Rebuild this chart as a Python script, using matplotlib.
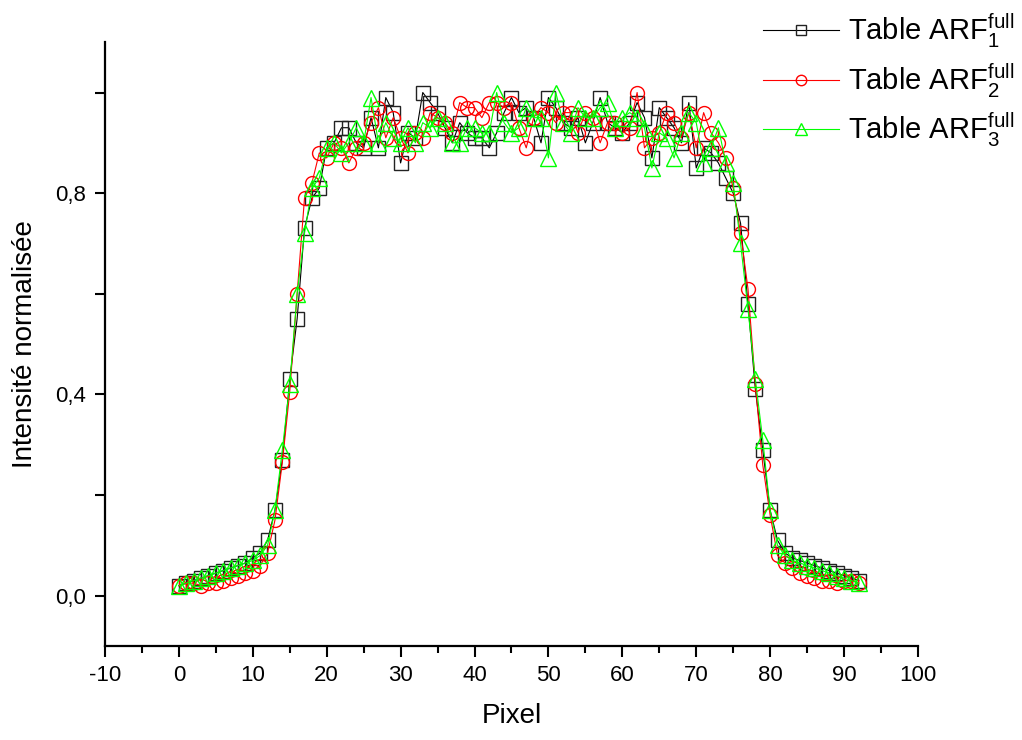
import numpy as np
import matplotlib
matplotlib.use("Agg")
import matplotlib.pyplot as plt
from matplotlib.ticker import MultipleLocator, FixedLocator, FuncFormatter

plt.rcParams['font.family'] = ['Liberation Sans', 'DejaVu Sans']
plt.rcParams['mathtext.default'] = 'regular'
plt.rcParams['axes.unicode_minus'] = False

# pixel index
pixel = np.arange(93)

# Table ARF1 full (black squares)
arf1 = [0.020, 0.025, 0.030, 0.035, 0.040, 0.045, 0.050, 0.055, 0.060, 0.065,
        0.075, 0.085, 0.110, 0.170, 0.270, 0.430, 0.550, 0.730, 0.790, 0.810,
        0.890, 0.900, 0.930, 0.930, 0.900, 0.890, 0.950, 0.890, 0.990, 0.960,
        0.860, 0.920, 0.910, 1.000, 0.980, 0.960, 0.930, 0.900, 0.940, 0.920,
        0.910, 0.910, 0.890, 0.920, 0.960, 0.990, 0.960, 0.970, 0.950, 0.900,
        0.990, 0.970, 0.940, 0.930, 0.950, 0.900, 0.940, 0.990, 0.940, 0.930,
        0.920, 0.940, 0.980, 0.950, 0.870, 0.970, 0.950, 0.930, 0.900, 0.980,
        0.850, 0.890, 0.880, 0.860, 0.830, 0.800, 0.740, 0.580, 0.410, 0.290,
        0.170, 0.110, 0.085, 0.075, 0.070, 0.065, 0.060, 0.055, 0.050, 0.045,
        0.040, 0.035, 0.030]

# Table ARF2 full (red circles)
arf2 = [0.020, 0.025, 0.025, 0.020, 0.025, 0.025, 0.030, 0.035, 0.040, 0.045,
        0.050, 0.060, 0.085, 0.150, 0.265, 0.405, 0.600, 0.790, 0.820, 0.880,
        0.870, 0.900, 0.890, 0.860, 0.890, 0.900, 0.940, 0.970, 0.910, 0.950,
        0.910, 0.880, 0.920, 0.910, 0.960, 0.950, 0.940, 0.920, 0.980, 0.970,
        0.970, 0.950, 0.980, 0.980, 0.970, 0.980, 0.930, 0.890, 0.950, 0.970,
        0.960, 0.940, 0.960, 0.960, 0.920, 0.960, 0.950, 0.900, 0.940, 0.940,
        0.920, 0.930, 1.000, 0.890, 0.910, 0.920, 0.960, 0.940, 0.910, 0.960,
        0.890, 0.960, 0.920, 0.900, 0.870, 0.810, 0.720, 0.610, 0.420, 0.260,
        0.160, 0.080, 0.065, 0.055, 0.045, 0.040, 0.035, 0.030, 0.030, 0.025,
        0.030, 0.030, 0.025]

# Table ARF3 full (green triangles)
arf3 = [0.020, 0.025, 0.030, 0.035, 0.040, 0.045, 0.050, 0.055, 0.060, 0.065,
        0.070, 0.080, 0.100, 0.170, 0.290, 0.420, 0.600, 0.720, 0.810, 0.830,
        0.890, 0.900, 0.880, 0.900, 0.930, 0.900, 0.990, 0.900, 0.940, 0.910,
        0.900, 0.930, 0.900, 0.940, 0.930, 0.950, 0.940, 0.900, 0.900, 0.930,
        0.930, 0.920, 0.920, 1.000, 0.940, 0.920, 0.930, 0.970, 0.950, 0.950,
        0.870, 1.000, 0.940, 0.920, 0.970, 0.950, 0.950, 0.970, 0.980, 0.930,
        0.950, 0.960, 0.950, 0.930, 0.850, 0.920, 0.910, 0.870, 0.920, 0.960,
        0.940, 0.860, 0.890, 0.930, 0.860, 0.820, 0.700, 0.570, 0.430, 0.310,
        0.170, 0.100, 0.080, 0.070, 0.065, 0.060, 0.055, 0.050, 0.045, 0.040,
        0.035, 0.030, 0.025]

labels = ['Table ARF$_{1}^{full}$', 'Table ARF$_{2}^{full}$', 'Table ARF$_{3}^{full}$']

fig = plt.figure(figsize=(10.22, 7.40), dpi=100)
ax = fig.add_axes([0.1027, 0.127, 0.7955, 0.816])

ax.plot(pixel, arf1, '-s', color='black', lw=0.8, ms=9.5, mfc='none', mec='#222222', mew=1.0, label=labels[0])
ax.plot(pixel, arf2, '-o', color='red', lw=0.8, ms=10, mfc='none', mec='red', mew=1.0, label=labels[1])
ax.plot(pixel, arf3, '-^', color='#00ff00', lw=0.8, ms=11.5, mfc='none', mec='#00ff00', mew=1.0, label=labels[2])

ax.set_xlim(-10, 100)
ax.set_ylim(-0.1, 1.1)
ax.xaxis.set_major_locator(MultipleLocator(10))
ax.xaxis.set_minor_locator(MultipleLocator(5))
ax.yaxis.set_major_locator(FixedLocator([0.0, 0.4, 0.8]))
ax.yaxis.set_minor_locator(FixedLocator([0.2, 0.6, 1.0]))
ax.yaxis.set_major_formatter(FuncFormatter(lambda v, p: ('%.1f' % v).replace('.', ',')))

ax.spines['top'].set_visible(False)
ax.spines['right'].set_visible(False)
ax.spines['left'].set_linewidth(1.6)
ax.spines['bottom'].set_linewidth(1.6)
ax.tick_params(axis='x', which='major', direction='out', length=8, width=1.5, labelsize=16, pad=6)
ax.tick_params(axis='x', which='minor', direction='out', length=5, width=1.5)
ax.tick_params(axis='y', which='both', direction='out', length=7, width=1.5, labelsize=16, pad=7)

ax.set_xlabel('Pixel', fontsize=20, labelpad=12)
ax.set_ylabel('Intensité normalisée', fontsize=20, labelpad=12)

fig.legend(loc='upper right', bbox_to_anchor=(1.018, 1.02), frameon=False, fontsize=21,
           handlelength=2.6, handletextpad=0.3, labelspacing=0.38, markerscale=0.75)

fig.savefig('out.png', dpi=100)
